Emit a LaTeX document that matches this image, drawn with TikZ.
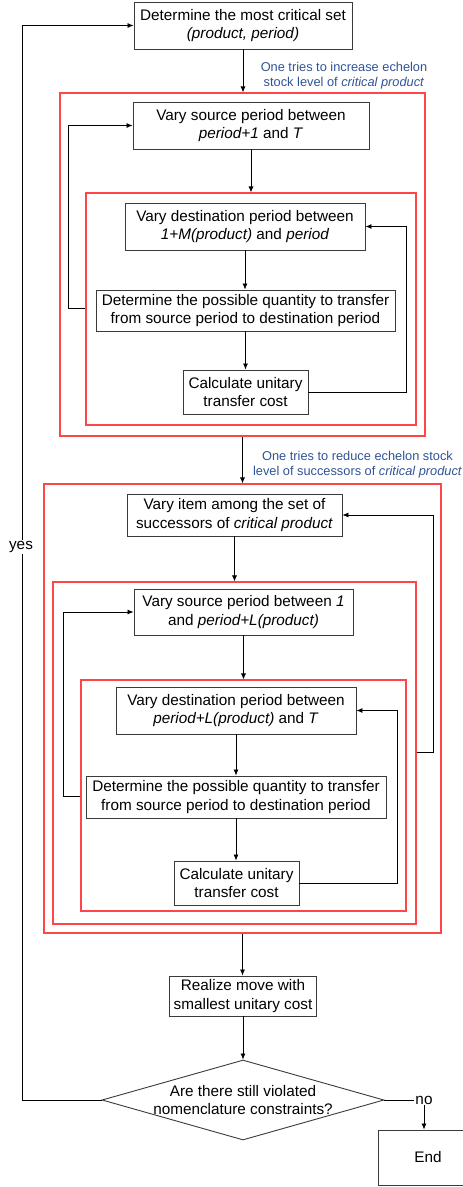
\documentclass[tikz,border=0pt]{standalone}
\usepackage{fontspec}
\setmainfont{Liberation Sans}
\usetikzlibrary{arrows.meta,shapes.geometric}
\definecolor{boxgray}{HTML}{3A3A3A}
\definecolor{annblue}{HTML}{2F5496}
\definecolor{loopred}{HTML}{FF4545}
\begin{document}
\begin{tikzpicture}[x=1pt,y=-1pt,
  procbox/.style={draw=boxgray,line width=0.9pt,fill=white,inner sep=0pt,align=center,
    font=\fontsize{15.3}{18.3}\selectfont},
  redframe/.style={draw=loopred,line width=1.1pt,inner sep=0pt},
  decision/.style={draw=boxgray,line width=0.9pt,diamond,inner sep=0pt,align=center,
    font=\fontsize{15.3}{18.3}\selectfont},
  annot/.style={text=annblue,align=center,font=\fontsize{12.8}{15}\selectfont},
  flow/.style={draw=black,line width=0.8pt,-{Latex[length=6pt,width=5pt]}},
  plain/.style={draw=black,line width=0.8pt},
  lbl/.style={font=\fontsize{15.3}{18.3}\selectfont,fill=white,inner sep=1pt}
]
\useasboundingbox (0,0) rectangle (463,1187);
\clip (0,0) rectangle (463,1187);

% red frames
\node[redframe,minimum width=365pt,minimum height=343pt] (outerA) at (242.5,264.5) {};
\node[redframe,minimum width=330pt,minimum height=232pt] (innerA) at (251,309) {};
\node[redframe,minimum width=397pt,minimum height=449pt] (outerB) at (242.5,708.5) {};
\node[redframe,minimum width=363pt,minimum height=342pt] (midB) at (234.5,753) {};
\node[redframe,minimum width=325pt,minimum height=231pt] (innerB) at (243.5,795.5) {};

% process boxes
\node[procbox,minimum width=218pt,minimum height=47pt] (top) at (243,25.5)
  {Determine the most critical set\\\textit{(product, period)}};
\node[procbox,minimum width=236pt,minimum height=47pt] (srcA) at (251,125.5)
  {Vary source period between\\\textit{period+1} and \textit{T}};
\node[procbox,minimum width=240pt,minimum height=47pt] (dstA) at (245,226.5)
  {Vary destination period between\\\textit{1+M(product)} and \textit{period}};
\node[procbox,minimum width=299pt,minimum height=41pt] (detA) at (245.5,310.5)
  {Determine the possible quantity to transfer\\from source period to destination period};
\node[procbox,minimum width=125pt,minimum height=44pt] (calcA) at (245.5,392)
  {Calculate unitary\\transfer cost};

\node[procbox,minimum width=215pt,minimum height=42pt] (item) at (234.5,515)
  {Vary item among the set of\\successors of \textit{critical product}};
\node[procbox,minimum width=219pt,minimum height=46pt] (srcB) at (243.5,612)
  {Vary source period between \textit{1}\\and \textit{period+L(product)}};
\node[procbox,minimum width=240pt,minimum height=47pt] (dstB) at (236,710.5)
  {Vary destination period between\\\textit{period+L(product)} and \textit{T}};
\node[procbox,minimum width=300pt,minimum height=42pt] (detB) at (236,797)
  {Determine the possible quantity to transfer\\from source period to destination period};
\node[procbox,minimum width=125pt,minimum height=44pt] (calcB) at (236.5,883)
  {Calculate unitary\\transfer cost};

\node[procbox,minimum width=147pt,minimum height=40pt] (realize) at (243,996)
  {Realize move with\\smallest unitary cost};
\node[decision,minimum width=282pt,minimum height=80pt,aspect=3.5] (dec) at (243,1100) {};
\node[font=\fontsize{15.3}{18.3}\selectfont,align=center] (dectext) at (243,1100)
  {Are there still violated\\nomenclature constraints?};
\node[procbox,minimum width=100pt,minimum height=55pt] (end) at (428,1157.5) {End};

% annotations
\node[annot] (annA) at (344,76) {One tries to increase echelon\\stock level of \textit{critical product}};
\node[annot] (annB) at (357.5,464.5) {One tries to reduce echelon stock\\level of successors of \textit{critical product}};

% straight flow
\draw[flow] (top.south) -- (top.south |- outerA.north);
\draw[flow] (srcA.south) -- (srcA.south |- innerA.north);
\draw[flow] (dstA.south) -- (dstA.south |- detA.north);
\draw[flow] (detA.south) -- (detA.south |- calcA.north);
\draw[flow] (outerA.south) -- (outerA.south |- outerB.north);
\draw[flow] (item.south) -- (item.south |- midB.north);
\draw[flow] (srcB.south) -- (srcB.south |- innerB.north);
\draw[flow] (dstB.south) -- (dstB.south |- detB.north);
\draw[flow] (detB.south) -- (detB.south |- calcB.north);
\draw[flow] (outerB.south) -- (outerB.south |- realize.north);
\draw[flow] (realize.south) -- (realize.south |- dec.north);

% loops
\coordinate (lA1) at (68,308);
\draw[flow] (innerA.west |- lA1) -- (lA1) |- (srcA.west);
\coordinate (rA1) at (406,392);
\draw[flow] (calcA.east) -- (rA1) |- (dstA.east);
\coordinate (rB0) at (433,752);
\draw[flow] (midB.east |- rB0) -- (rB0) |- (item.east);
\coordinate (lB1) at (63,796);
\draw[flow] (innerB.west |- lB1) -- (lB1) |- (srcB.west);
\coordinate (rB1) at (397,883);
\draw[flow] (calcB.east) -- (rB1) |- (dstB.east);

% yes / no
\coordinate (yesc) at (22,1100);
\draw[flow] (dec.west) -- (yesc) |- (top.west);
\node[lbl] (yes) at (21,547) {yes};
\node[font=\fontsize{15.3}{18.3}\selectfont,inner sep=1pt] (no) at (424,1100) {no};
\draw[plain] (dec.east) -- (no.west);
\draw[flow] (no.south) -- (no.south |- end.north);
\end{tikzpicture}
\end{document}
